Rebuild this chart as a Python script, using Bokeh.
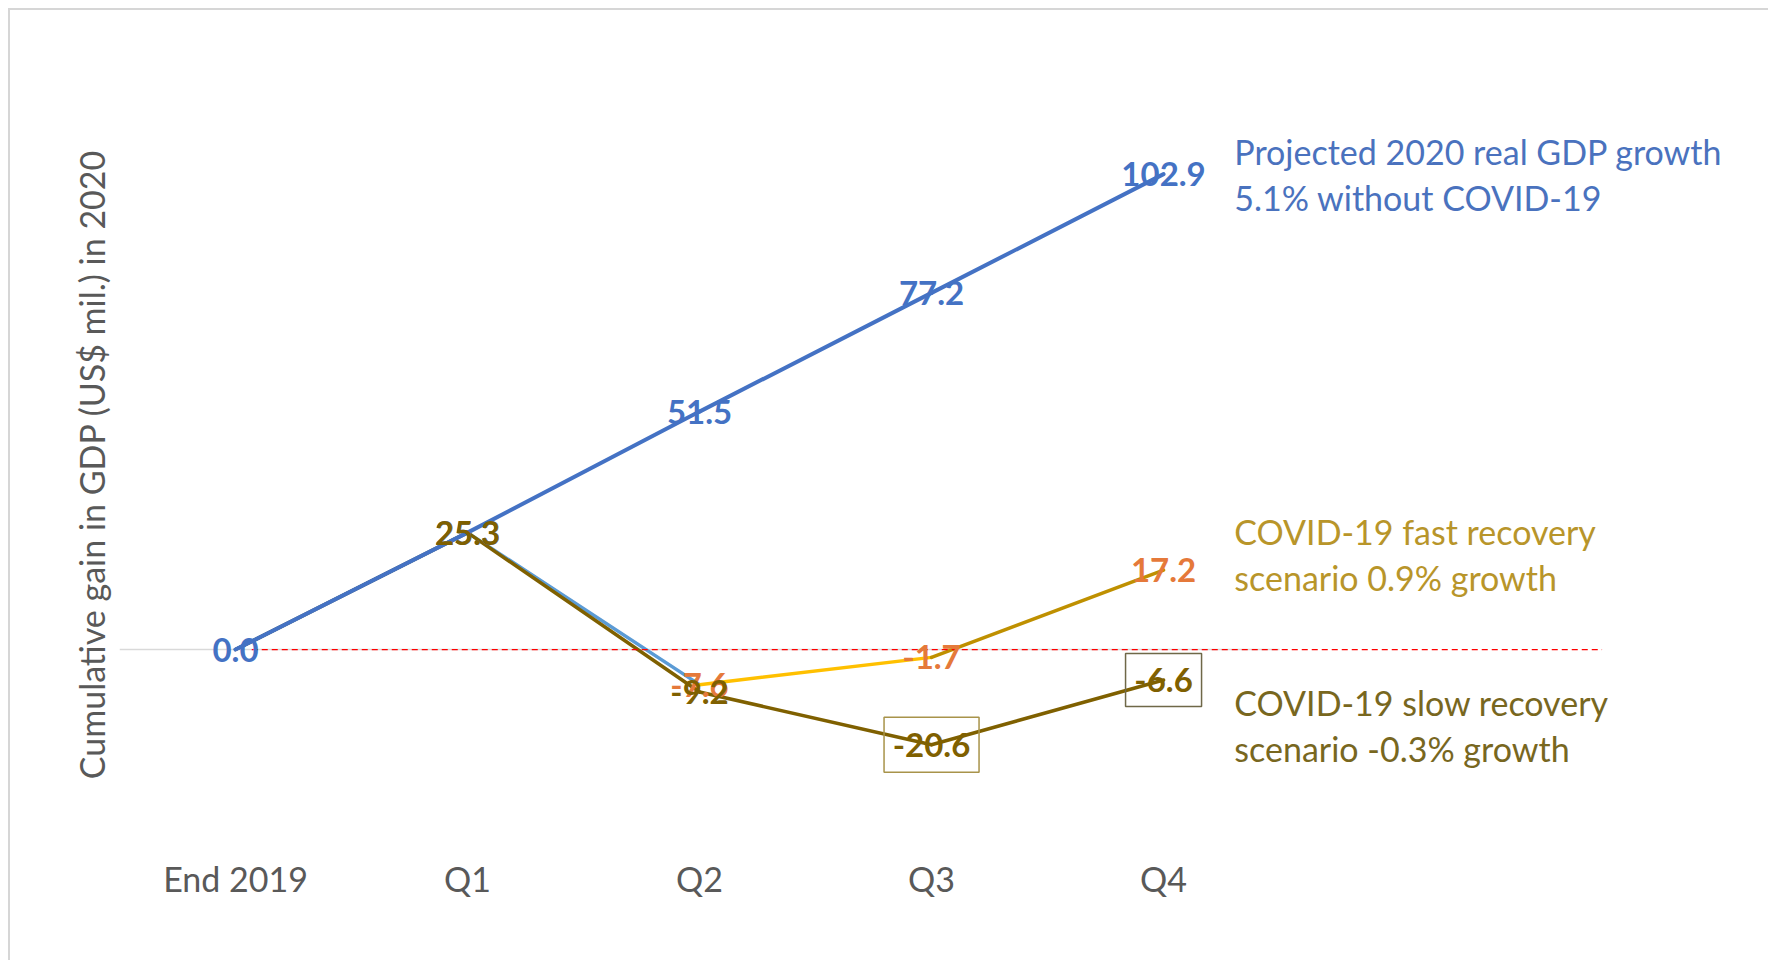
from bokeh.plotting import figure
from bokeh.models import FixedTicker
from bokeh.embed import file_html
from bokeh.resources import INLINE
from bokeh.core.properties import value

# ---------------- data ----------------
categories = ["End 2019", "Q1", "Q2", "Q3", "Q4"]
no_covid = [0.0, 25.3, 51.5, 77.2, 102.9]
fast_recovery = [0.0, 25.3, -7.6, -1.7, 17.2]
slow_recovery = [0.0, 25.3, -9.2, -20.6, -6.6]

note_no_covid = ["Projected 2020 real GDP growth", "5.1% without COVID-19"]
note_fast = ["COVID-19 fast recovery", "scenario 0.9% growth"]
note_slow = ["COVID-19 slow recovery", "scenario -0.3% growth"]
y_title = "Cumulative gain in GDP (US$ mil.) in 2020"

# ---------------- styles / positions ----------------
FONT = value("Lato")
BLUE = "#4472C4"
LIGHT_BLUE = "#5B9BD5"
YELLOW = "#FFC000"
GOLD = "#BF9000"
OLIVE = "#7F6000"
ORANGE = "#E5793A"
GREY_TXT = "#595959"

xs = list(range(len(categories)))

NOTE_X = 4.305
NOTE_Y_NO_COVID = [107.8, 97.8]
NOTE_Y_FAST = [25.5, 15.6]
NOTE_Y_SLOW = [-11.5, -21.4]
REF_X0, REF_X1 = 0.07, 5.89

p = figure(width=1760, height=952,
           x_range=(-0.5, 6.616), y_range=(-43.5, 123.6),
           output_backend="svg", toolbar_location=None,
           min_border_left=109, min_border_right=0,
           min_border_top=68, min_border_bottom=112,
           background_fill_color="white", border_fill_color="white",
           outline_line_color=None)
p.styles = {"margin-left": "8px", "margin-top": "8px",
            "border-top": "2px solid #d6d6d6", "border-left": "2px solid #d6d6d6"}

p.xgrid.visible = False
p.ygrid.visible = False

# x axis: category labels
p.xaxis.ticker = FixedTicker(ticks=xs)
p.xaxis.major_label_overrides = {i: c for i, c in zip(xs, categories)}
p.xaxis.axis_line_color = None
p.xaxis.major_tick_line_color = None
p.xaxis.minor_tick_line_color = None
p.xaxis.major_tick_out = 0
p.xaxis.major_label_standoff = 7
p.xaxis.major_label_text_font = "Lato"
p.xaxis.major_label_text_font_size = "34px"
p.xaxis.major_label_text_color = GREY_TXT

# y axis: title only
p.yaxis.ticker = FixedTicker(ticks=[])
p.yaxis.axis_line_color = None
p.yaxis.major_tick_line_color = None
p.yaxis.minor_tick_line_color = None
p.yaxis.major_tick_out = 0
p.yaxis.major_label_standoff = 0
p.yaxis.axis_label = y_title
p.yaxis.axis_label_standoff = 8
p.yaxis.axis_label_text_font = "Lato"
p.yaxis.axis_label_text_font_size = "34px"
p.yaxis.axis_label_text_font_style = "normal"
p.yaxis.axis_label_text_color = GREY_TXT

# horizontal category axis line at zero
p.segment(x0=[xs[0] - 0.5], y0=[0], x1=[xs[-1] + 0.5], y1=[0],
          line_color="#d9d9d9", line_width=1.5)


def draw_series(vals, colors, width=4):
    p.segment(x0=xs[:-1], y0=vals[:-1], x1=xs[1:], y1=vals[1:],
              line_color=colors, line_width=width, line_cap="round")


draw_series(fast_recovery, [LIGHT_BLUE, LIGHT_BLUE, YELLOW, GOLD], 3.5)
draw_series(slow_recovery, [OLIVE] * 4, 3.5)
draw_series(no_covid, [BLUE] * 4, 4)

# red dashed reference line at zero
p.segment(x0=[REF_X0], y0=[0], x1=[REF_X1], y1=[0],
          line_color="#FF0000", line_dash="6 4", line_width=1.3)

# boxes around two slow-recovery labels
p.rect(x=[xs[3], xs[4]], y=[slow_recovery[3], slow_recovery[4]],
       width=[95, 76], height=[55, 53], width_units="screen", height_units="screen",
       fill_color=None, line_color=["#A8934A", "#6F6848"], line_width=1.5)


def draw_labels(idx, vals, color):
    p.text(x=[xs[i] for i in idx], y=[vals[i] for i in idx],
           text=[f"{vals[i]:.1f}" for i in idx],
           text_font=FONT, text_font_style="bold", text_font_size="33px",
           text_color=color, text_align="center", text_baseline="middle")


draw_labels([0, 1, 2, 3, 4], no_covid, BLUE)
draw_labels([2, 3, 4], fast_recovery, ORANGE)
draw_labels([1, 2, 3, 4], slow_recovery, OLIVE)


def draw_note(lines, ys, color):
    p.text(x=[NOTE_X] * len(lines), y=ys, text=lines,
           text_font=FONT, text_font_size="34px", text_color=color,
           text_align="left", text_baseline="middle")


draw_note(note_no_covid, NOTE_Y_NO_COVID, "#4A72BE")
draw_note(note_fast, NOTE_Y_FAST, "#B8952A")
draw_note(note_slow, NOTE_Y_SLOW, "#78671F")

open("out.html", "w").write(file_html(p, INLINE))
